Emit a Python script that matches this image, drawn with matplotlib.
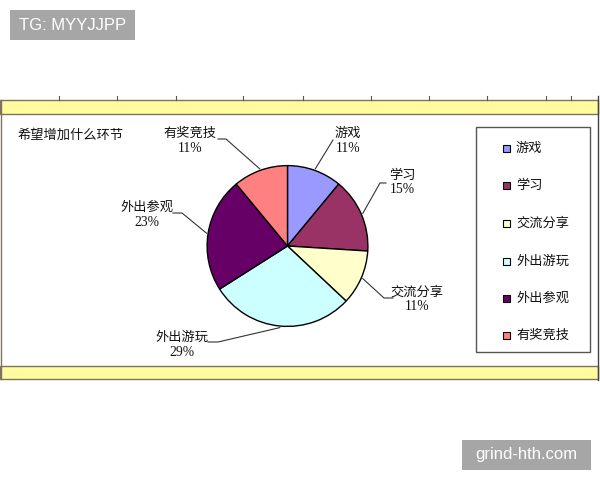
import matplotlib
matplotlib.use("Agg")
import matplotlib.pyplot as plt
from matplotlib.patches import Rectangle
from matplotlib.lines import Line2D
import numpy as np

# Datos
categorias = ['游戏', '学习', '交流分享', '外出游玩', '外出参观', '有奖竞技']
porcentajes = [11, 15, 11, 29, 23, 11]
colores = ['#9999FF', '#993366', '#FFFFCC', '#CCFFFF', '#660066', '#FF8080']
titulo = '希望增加什么环节'

W, H = 600, 480
CJK = ['Noto Sans CJK SC', 'DejaVu Sans']

fig = plt.figure(figsize=(6, 4.8), dpi=100)
fig.patch.set_facecolor('white')


def fx(x):
    return x / W


def fy(y):
    return 1 - y / H


def rect(x0, y0, x1, y1, **kw):
    fig.add_artist(Rectangle((fx(x0), fy(y1)), (x1 - x0) / W, (y1 - y0) / H,
                             transform=fig.transFigure, **kw))


def line(xs, ys, **kw):
    fig.add_artist(Line2D([fx(x) for x in xs], [fy(y) for y in ys],
                          transform=fig.transFigure, **kw))


# hoja de excel: bandas amarillas y marco
borde = '#7a7460'
rect(0, 100, 598, 114, facecolor='#FFFB9E', edgecolor=borde, lw=1)
rect(0, 366, 598, 379, facecolor='#FFFB9E', edgecolor=borde, lw=1)
line([0.5, 0.5], [100, 379], color=borde, lw=1)
line([598, 598], [96, 380], color='#444444', lw=1)
for xc in [59, 117, 176, 243, 303, 371, 429, 487, 546, 571]:
    line([xc, xc], [96, 100], color='#555555', lw=0.8)

# pie
cx, cy, r = 287.5, 246, 82
ax = fig.add_axes([fx(cx - r), fy(cy + r), 2 * r / W, 2 * r / H])
wedges, _ = ax.pie(porcentajes, colors=colores, startangle=90, counterclock=False,
                   radius=1, wedgeprops=dict(edgecolor='black', linewidth=1.0))
ax.set_xlim(-1.02, 1.02)
ax.set_ylim(-1.02, 1.02)
ax.axis('off')

fig.text(fx(18), fy(135), titulo, family=CJK, fontsize=9.5, color='#111111',
         ha='left', va='center')

# etiquetas con lineas guia (centro del texto, inicio de la guia, codo)
etq_pos = [(348, 140), (402, 182), (417, 299), (182, 344), (147, 214), (190, 140)]
guia_ini = [(333, 140), (386, 183), (393, 298), (208, 342), (173, 213), (218, 139)]
guia_codo = [(333, 140), (380, 183), (384, 298), (218, 342), (182, 213), (226, 139)]

acum = 0
for i, (cat, p) in enumerate(zip(categorias, porcentajes)):
    mid = np.radians((acum + p / 2) / sum(porcentajes) * 360)
    acum += p
    ex, ey = cx + r * np.sin(mid), cy - r * np.cos(mid)
    tx, ty = etq_pos[i]
    fig.text(fx(tx), fy(ty - 7), cat, family=CJK, fontsize=9.5, color='#111111',
             ha='center', va='center')
    fig.text(fx(tx), fy(ty + 8), f'{p}%', family='Liberation Serif', fontsize=9.8,
             color='#111111', ha='center', va='center')
    sx, sy = guia_ini[i]
    kx, ky = guia_codo[i]
    line([sx, kx, ex], [sy, ky, ey], color='#333333', lw=0.8)

# leyenda
rect(476, 127, 590, 352, facecolor='white', edgecolor='#555555', lw=1)
ley_y = [148, 185, 223, 261, 298, 335]
for cat, col, yy in zip(categorias, colores, ley_y):
    rect(503, yy - 3.5, 510, yy + 3.5, facecolor=col, edgecolor='black', lw=0.8)
    fig.text(fx(516), fy(yy), cat, family=CJK, fontsize=9.5, color='#111111',
             ha='left', va='center')

# marcas de agua
rect(10, 10, 135, 40, facecolor='#A6A6A6', edgecolor='none')
fig.text(fx(72.5), fy(25), 'TG: MYYJJPP', family='Liberation Sans', fontsize=12,
         color='white', ha='center', va='center')
rect(462, 440, 591, 470, facecolor='#A6A6A6', edgecolor='none')
fig.text(fx(526.5), fy(455), 'grind-hth.com', family='Liberation Sans', fontsize=12,
         color='white', ha='center', va='center')

fig.savefig('out.png', dpi=100)
